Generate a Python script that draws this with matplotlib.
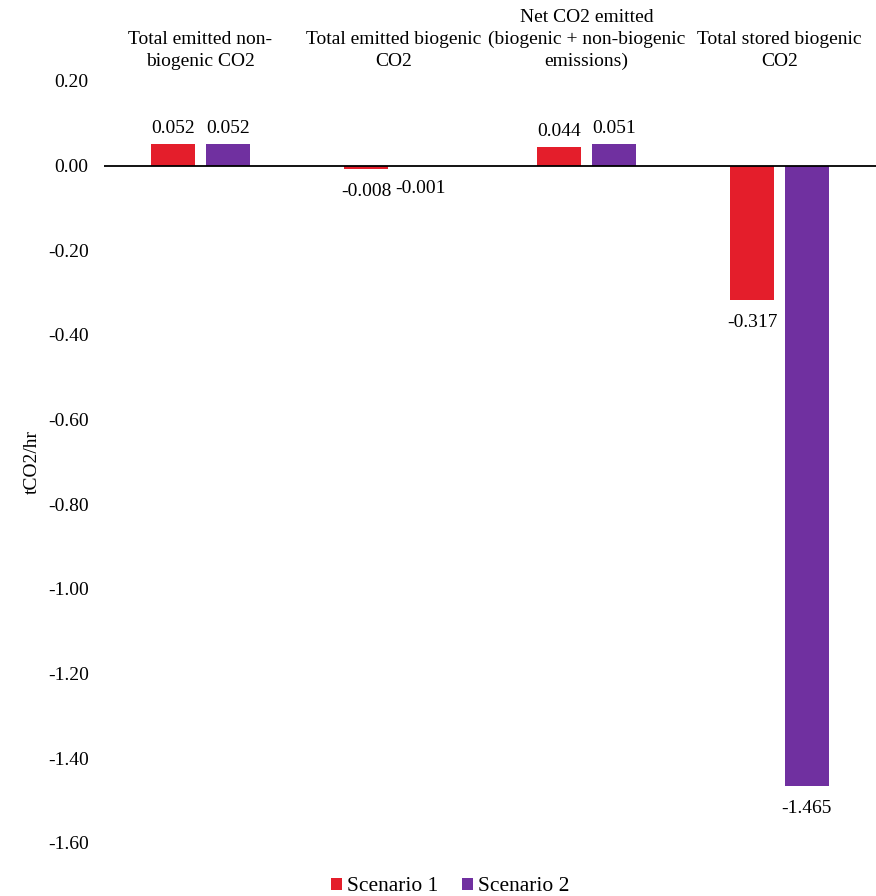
import matplotlib
matplotlib.use("Agg")
import matplotlib.pyplot as plt
from matplotlib.ticker import FuncFormatter
import numpy as np

categories = ["Total emitted non-\nbiogenic CO2", "Total emitted biogenic\nCO2",
              "Net CO2 emitted\n(biogenic + non-biogenic\nemissions)", "Total stored biogenic\nCO2"]
series_names = ["Scenario 1", "Scenario 2"]
scenario1 = [0.052, -0.008, 0.044, -0.317]
scenario2 = [0.052, -0.001, 0.051, -1.465]
colors = ["#E41E2B", "#7030A0"]
yticks = [0.20, 0.00, -0.20, -0.40, -0.60, -0.80, -1.00, -1.20, -1.40, -1.60]

plt.rcParams['font.family'] = ['Liberation Serif', 'DejaVu Serif']
plt.rcParams['font.size'] = 14

fig = plt.figure(figsize=(8.76, 8.96), dpi=100)
ax = fig.add_axes([0.1187, 0.0592, 0.8813, 0.8504])

x = np.arange(len(categories))
w = 0.228
off = 0.142
for vals, name, c, d in zip([scenario1, scenario2], series_names, colors, [-off, off]):
    bars = ax.bar(x + d, vals, width=w, color=c, label=name)
    for xi, v in zip(x + d, vals):
        if v >= 0:
            ax.annotate(f"{v:.3f}", (xi, v), xytext=(0, 5), textcoords="offset points",
                        ha="center", va="bottom", fontsize=14)
        else:
            ax.annotate(f"{v:.3f}", (xi, v), xytext=(0, -10), textcoords="offset points",
                        ha="center", va="top", fontsize=14)

ax.axhline(0, color="black", lw=1.3, zorder=3)
ax.set_xlim(-0.5, 3.5)
ax.set_ylim(-1.6, 0.2)
ax.set_yticks(yticks)
ax.yaxis.set_major_formatter(FuncFormatter(lambda v, p: f"{v:.2f}".replace("\u2212", "-")))
ax.tick_params(axis="y", length=0, pad=11, labelsize=14)
ax.xaxis.tick_top()
ax.set_xticks(x)
ax.set_xticklabels(categories, fontsize=14, linespacing=1.35)
ax.tick_params(axis="x", length=0, pad=8)
for s in ax.spines.values():
    s.set_visible(False)
ax.set_ylabel("tCO2/hr", fontsize=14, labelpad=5)

fig.legend(loc="lower center", ncol=2, frameon=False, bbox_to_anchor=(0.514, -0.022),
           handlelength=0.5, handleheight=0.5, handletextpad=0.25, columnspacing=1.1, fontsize=15.5)

fig.savefig("out.png", dpi=100)
